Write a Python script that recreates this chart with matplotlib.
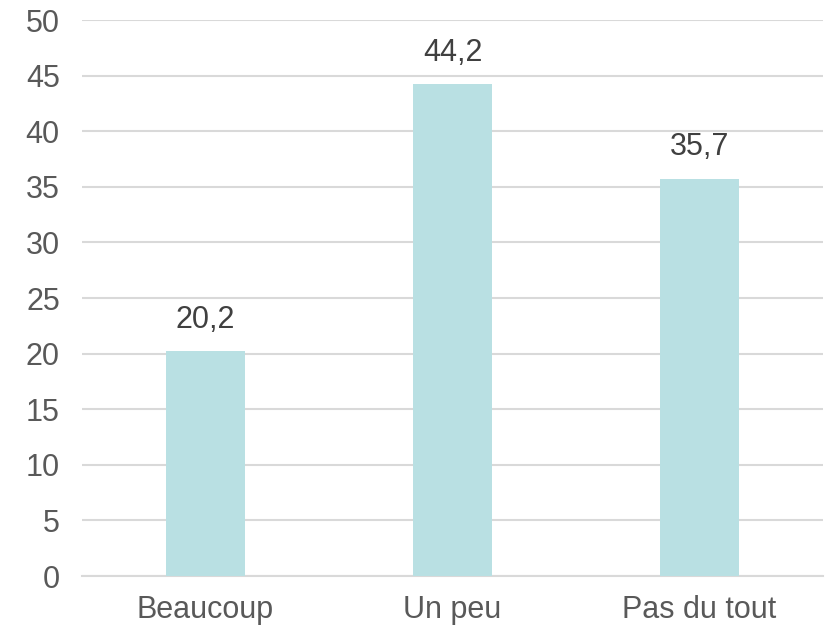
import matplotlib
matplotlib.use("Agg")
import matplotlib.pyplot as plt

categories = ["Beaucoup", "Un peu", "Pas du tout"]
values = [20.2, 44.2, 35.7]
value_labels = ["20,2", "44,2", "35,7"]
yticks = [0, 5, 10, 15, 20, 25, 30, 35, 40, 45, 50]

plt.rcParams['font.family'] = ['Liberation Sans', 'DejaVu Sans']
text_color = "#595959"
fs = 22

fig = plt.figure(figsize=(8.28, 6.33), dpi=100)
ax = fig.add_axes([82/828, 57/633, 741/828, 556/633])

x = list(range(len(categories)))
bars = ax.bar(x, values, width=0.316, color="#B9E0E3", zorder=3)

for xi, v, lab in zip(x, values, value_labels):
    ax.annotate(lab, (xi, v), xytext=(0, 12), textcoords="offset points",
                ha="center", va="bottom", fontsize=fs, color="#404040")

ax.set_xlim(-0.5, len(categories) - 0.5)
ax.set_ylim(0, 50)
ax.set_yticks(yticks)
ax.set_yticklabels([str(t) for t in yticks])
ax.set_xticks(x)
ax.set_xticklabels(categories)
ax.tick_params(axis="both", length=0, labelsize=fs, labelcolor=text_color)
ax.tick_params(axis="y", pad=16)
ax.tick_params(axis="x", pad=14)

ax.grid(axis="y", color="#D9D9D9", linewidth=1.5, zorder=0)
for s in ["top", "right", "left"]:
    ax.spines[s].set_visible(False)
ax.spines["bottom"].set_color("#D9D9D9")
ax.spines["bottom"].set_linewidth(1.5)

fig.savefig("out.png", dpi=100)
